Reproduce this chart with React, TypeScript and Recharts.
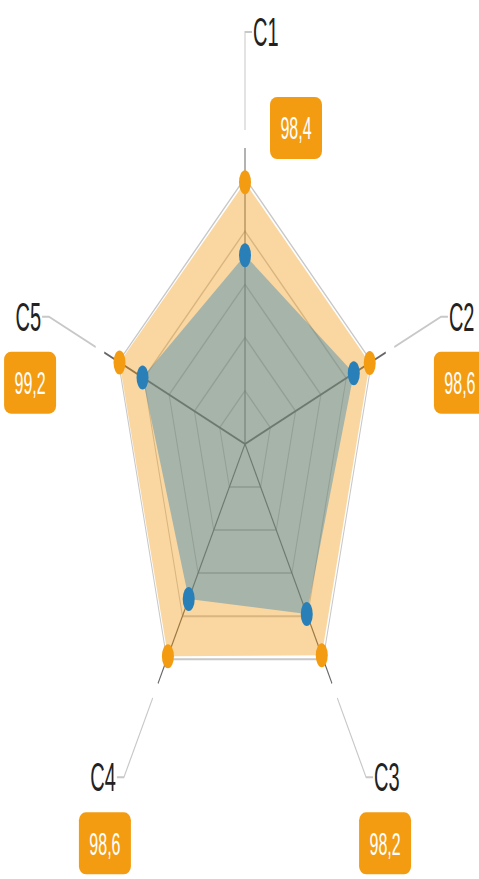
import { RadarChart, Radar, PolarGrid, PolarAngleAxis, PolarRadiusAxis } from 'recharts';

const categories = ['C1', 'C2', 'C3', 'C4', 'C5'];
const targetValues = [98.4, 98.6, 98.2, 98.6, 99.2];
const actualValues = [71, 86, 79, 72, 81];

const data = categories.map((name, i) => ({
  name,
  target: targetValues[i],
  actual: actualValues[i],
}));

// chart is drawn at half height and stretched 2x vertically, like the reference
const W = 479;
const H = 440;
const CX = 245;
const CY = 222;
const OUTER = 133;

const ORANGE = '#F39C12';
const BLUE = '#2980B9';

const fmt = (v: number) => v.toFixed(1).replace('.', ',');

function AxisLabel(props: any) {
  const { x, y, payload, index } = props;
  const dx = x - CX;
  const dy = y - CY;
  const len = Math.sqrt(dx * dx + dy * dy) || 1;
  const ux = dx / len;
  const uy = dy / len;
  const at = (r: number) => [CX + ux * r, CY + uy * r];

  const [s1x, s1y] = at(OUTER);
  const [s2x, s2y] = at(148);
  const [l1x, l1y] = at(157);
  const [px, py] = at(206);

  const right = ux > -0.05;
  const sign = right ? 1 : -1;
  const hx = px + sign * 7;
  const tx = px + sign * 8;
  const top = Math.abs(ux) < 0.05 && uy < 0;

  let bx = px + sign * 19;
  let by = py + 33;
  if (top) {
    bx = px + 51;
    by = py + 48;
  }
  const i = index ?? payload.index;

  return (
    <g>
      <line x1={s1x} y1={s1y} x2={s2x} y2={s2y} stroke="#666" strokeWidth={1} />
      <polyline
        points={`${l1x},${l1y} ${px},${py} ${hx},${py}`}
        fill="none"
        stroke="#c8c8c8"
        strokeWidth={1}
      />
      <text
        x={tx}
        y={py}
        textAnchor={right ? 'start' : 'end'}
        dominantBaseline="central"
        fontSize={20}
        fontFamily="Liberation Sans, Arial, sans-serif"
        fill="#222"
      >
        {payload.value}
      </text>
      <rect x={bx - 26} y={by - 15.5} width={52} height={31} rx={7} ry={4} fill={ORANGE} />
      <text
        x={bx}
        y={by}
        textAnchor="middle"
        dominantBaseline="central"
        fontSize={16}
        fontFamily="Liberation Sans, Arial, sans-serif"
        fill="#fff"
      >
        {fmt(targetValues[i])}
      </text>
    </g>
  );
}

export default function App() {
  return (
    <div style={{ position: 'absolute', left: 0, top: 0, width: W, height: 879, overflow: 'hidden', background: '#fff' }}>
      <div style={{ width: W, height: H, transform: 'scaleY(2)', transformOrigin: '0 0' }}>
        <RadarChart
          width={W}
          height={H}
          data={data}
          cx={CX}
          cy={CY}
          outerRadius={OUTER}
          margin={{ top: 0, right: 0, bottom: 0, left: 0 }}
        >
          <PolarGrid radialLines={false} stroke="#c8c8c8" />
          <PolarGrid polarRadius={[]} stroke="#606060" />
          <PolarRadiusAxis domain={[0, 100]} tickCount={6} tick={false} axisLine={false} />
          <PolarAngleAxis dataKey="name" tick={<AxisLabel />} tickLine={false} axisLine={false} />
          <Radar
            dataKey="target"
            fill={ORANGE}
            fillOpacity={0.4}
            stroke="none"
            dot={{ r: 6, fill: ORANGE, fillOpacity: 1, stroke: 'none' }}
            isAnimationActive={false}
          />
          <Radar
            dataKey="actual"
            fill={BLUE}
            fillOpacity={0.4}
            stroke="none"
            dot={{ r: 6, fill: BLUE, fillOpacity: 1, stroke: 'none' }}
            isAnimationActive={false}
          />
        </RadarChart>
      </div>
    </div>
  );
}
